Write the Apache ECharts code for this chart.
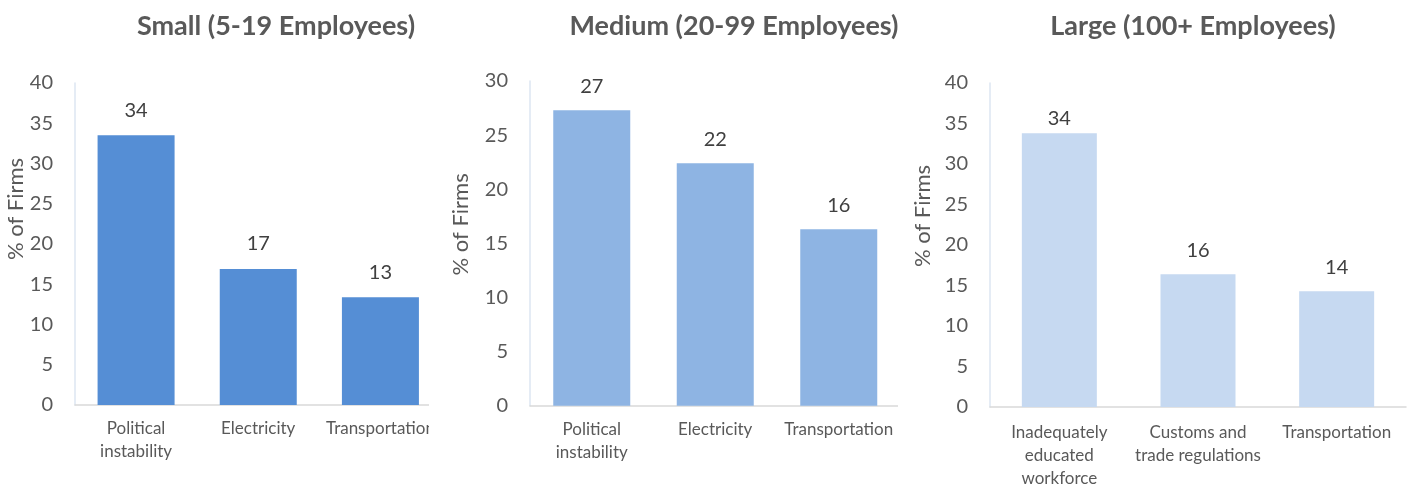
<!DOCTYPE html>
<html>
<head>
<meta charset="utf-8">
<script src="https://cdn.jsdelivr.net/npm/echarts@6/dist/echarts.min.js"></script>
<style>
  html, body { margin: 0; padding: 0; background: #fff; }
  .clip { position: absolute; top: 0; height: 485px; overflow: hidden; }
  .chart { position: absolute; top: 0; left: 0; height: 485px; }
</style>
</head>
<body>
<div class="clip" id="c1" style="left:0;width:429px"><div class="chart" id="p1" style="width:460px"></div></div>
<div class="clip" id="c2" style="left:430px;width:468px"><div class="chart" id="p2" style="width:480px"></div></div>
<div class="clip" id="c3" style="left:898px;width:510px"><div class="chart" id="p3" style="width:510px"></div></div>
<script>
// ---- data ----
const smallTitle = 'Small (5-19 Employees)';
const smallCategories = ['Political\ninstability', 'Electricity', 'Transportation'];
const smallValues = [33.5, 16.9, 13.4];

const mediumTitle = 'Medium (20-99 Employees)';
const mediumCategories = ['Political\ninstability', 'Electricity', 'Transportation'];
const mediumValues = [27.3, 22.4, 16.3];

const largeTitle = 'Large (100+ Employees)';
const largeCategories = ['Inadequately\neducated\nworkforce', 'Customs and\ntrade regulations', 'Transportation'];
const largeValues = [33.8, 16.4, 14.3];

const yAxisName = '% of Firms';
const smallYMax = 40, mediumYMax = 30, largeYMax = 40, yInterval = 5;

// ---- build ----
const FONT = 'Lato, "Open Sans", sans-serif';
function makeOption(cfg) {
  return {
    animation: false,
    title: {
      text: cfg.title, left: cfg.titleX, top: 8, textAlign: 'center',
      textStyle: { fontFamily: FONT, fontWeight: 'bold', fontSize: 27, color: '#595959' }
    },
    grid: Object.assign({ outerBoundsMode: 'none', containLabel: false }, cfg.grid),
    xAxis: {
      type: 'category', data: cfg.categories,
      axisLine: { lineStyle: { color: '#D9D9D9', width: 1.5 } },
      axisTick: { show: false },
      axisLabel: { color: '#595959', fontFamily: FONT, fontSize: 17, lineHeight: 23, margin: cfg.labelMargin, interval: 0 }
    },
    yAxis: {
      type: 'value', min: 0, max: cfg.yMax, interval: yInterval,
      name: yAxisName, nameLocation: 'middle', nameGap: cfg.nameGap, nameMoveOverlap: false,
      nameTextStyle: { color: '#595959', fontFamily: FONT, fontSize: 22, padding: [0, 0, 0, cfg.namePad] },
      axisLine: { show: true, lineStyle: { color: '#DCE6F2', width: 1.5 } },
      axisTick: { show: false },
      splitLine: { show: false },
      axisLabel: { color: '#595959', fontFamily: FONT, fontSize: 20, margin: 22 }
    },
    series: [{
      type: 'bar', data: cfg.values.map((v, i) => (cfg.labelDist && cfg.labelDist[i] != null)
        ? { value: v, label: { distance: cfg.labelDist[i] } } : v),
      barWidth: cfg.barWidth,
      itemStyle: { color: cfg.color },
      label: {
        show: true, position: 'top', distance: cfg.labelDistance,
        color: '#404040', fontFamily: FONT, fontSize: 20,
        formatter: p => Math.round(p.value)
      }
    }]
  };
}

echarts.init(document.getElementById('p1'), null, { renderer: 'canvas' }).setOption(makeOption({
  title: smallTitle, titleX: 271, categories: smallCategories, values: smallValues,
  yMax: smallYMax, color: '#558ED5', barWidth: 77, labelMargin: 12, labelDistance: 15,
  grid: { left: 75, right: 18.5, top: 83, bottom: 80 }, nameGap: 48, namePad: 70
}));
echarts.init(document.getElementById('p2'), null, { renderer: 'canvas' }).setOption(makeOption({
  title: mediumTitle, titleX: 299, categories: mediumCategories, values: mediumValues,
  yMax: mediumYMax, color: '#8EB4E3', barWidth: 77, labelMargin: 12, labelDistance: 14,
  grid: { left: 100, right: 9.5, top: 81, bottom: 79.3 }, nameGap: 58, namePad: 38
}));
echarts.init(document.getElementById('p3'), null, { renderer: 'canvas' }).setOption(makeOption({
  title: largeTitle, titleX: 290, categories: largeCategories, values: largeValues,
  yMax: largeYMax, color: '#C6D9F1', barWidth: 75, labelMargin: 14, labelDistance: 14,
  grid: { left: 92, right: 2, top: 83, bottom: 78 }, nameGap: 56, namePad: 58,
  labelDist: [5, null, null]
}));
</script>
</body>
</html>
